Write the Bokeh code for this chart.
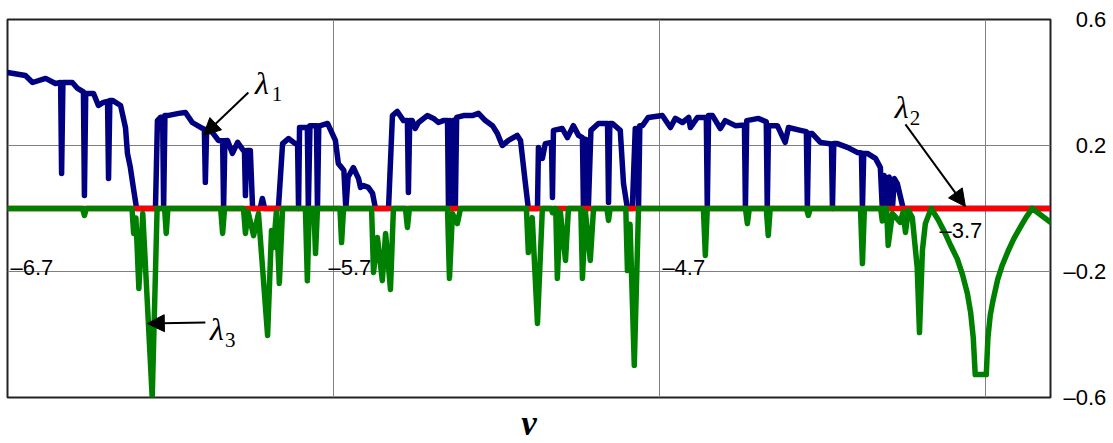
from bokeh.plotting import figure
from bokeh.models import Range1d, FixedTicker, Arrow, NormalHead, Label, ColumnDataSource
from bokeh.core.properties import value
from bokeh.embed import file_html
from bokeh.resources import INLINE

# ---------------- data ----------------
v_l1 = [-6.700, -6.645, -6.623, -6.583, -6.553, -6.537, -6.534, -6.530, -6.516, -6.501,
        -6.485, -6.467, -6.464, -6.460, -6.436, -6.421, -6.406, -6.393, -6.390, -6.386,
        -6.378, -6.353, -6.338, -6.332, -6.323, -6.314, -6.304, -6.246, -6.240, -6.230,
        -6.224, -6.221, -6.217, -6.209, -6.175, -6.154, -6.133, -6.102, -6.096, -6.093,
        -6.089, -6.071, -6.053, -6.040, -6.037, -6.033, -6.025, -6.010, -5.994, -5.976,
        -5.973, -5.970, -5.966, -5.955, -5.948, -5.925, -5.918, -5.911, -5.869, -5.856,
        -5.838, -5.817, -5.810, -5.807, -5.804, -5.780, -5.777, -5.772, -5.752, -5.749,
        -5.745, -5.740, -5.718, -5.694, -5.685, -5.675, -5.668, -5.662, -5.655, -5.639,
        -5.623, -5.617, -5.608, -5.593, -5.580, -5.571, -5.531, -5.519, -5.504, -5.485,
        -5.473, -5.470, -5.466, -5.458, -5.449, -5.439, -5.412, -5.393, -5.378, -5.363,
        -5.350, -5.347, -5.343, -5.338, -5.335, -5.331, -5.329, -5.326, -5.322, -5.301,
        -5.274, -5.255, -5.234, -5.212, -5.197, -5.182, -5.163, -5.136, -5.126, -5.111,
        -5.102, -5.074, -5.071, -5.059, -5.050, -5.031, -5.028, -5.025, -4.998, -4.982,
        -4.964, -4.948, -4.936, -4.933, -4.926, -4.918, -4.910, -4.887, -4.859, -4.856,
        -4.852, -4.844, -4.820, -4.810, -4.798, -4.783, -4.774, -4.767, -4.764, -4.760,
        -4.752, -4.734, -4.691, -4.666, -4.651, -4.629, -4.610, -4.605, -4.583, -4.556,
        -4.553, -4.549, -4.537, -4.513, -4.498, -4.467, -4.439, -4.436, -4.432, -4.396,
        -4.372, -4.369, -4.365, -4.338, -4.314, -4.304, -4.267, -4.249, -4.246, -4.242,
        -4.231, -4.206, -4.172, -4.169, -4.165, -4.154, -4.123, -4.093, -4.080, -4.077,
        -4.073, -4.062, -4.037, -4.022, -4.016, -4.010, -4.001, -3.995, -3.985, -3.979,
        -3.970, -3.952, -3.500]
lambda1 = [0.432, 0.422, 0.400, 0.413, 0.397, 0.400, 0.111, 0.400, 0.400, 0.400,
           0.381, 0.370, 0.041, 0.365, 0.365, 0.327, 0.337, 0.340, 0.095, 0.343,
           0.343, 0.327, 0.257, 0.175, 0.130, 0.067, 0.000, 0.000, 0.279, 0.290,
           0.290, 0.000, 0.295, 0.295, 0.302, 0.305, 0.273, 0.254, 0.252, 0.083,
           0.250, 0.241, 0.216, 0.215, 0.000, 0.215, 0.216, 0.175, 0.210, 0.184,
           0.184, 0.041, 0.184, 0.184, 0.000, 0.000, 0.032, 0.000, 0.000, 0.206,
           0.222, 0.206, 0.206, 0.000, 0.257, 0.257, 0.000, 0.263, 0.263, 0.000,
           0.263, 0.263, 0.270, 0.216, 0.143, 0.130, 0.121, 0.000, 0.100, 0.130,
           0.095, 0.067, 0.073, 0.067, 0.048, 0.000, 0.000, 0.295, 0.308, 0.279,
           0.279, 0.051, 0.279, 0.279, 0.254, 0.273, 0.295, 0.286, 0.273, 0.279,
           0.279, 0.000, 0.279, 0.270, 0.000, 0.280, 0.280, 0.000, 0.289, 0.295,
           0.295, 0.302, 0.279, 0.263, 0.238, 0.200, 0.216, 0.232, 0.216, 0.079,
           0.000, 0.000, 0.194, 0.159, 0.206, 0.210, 0.035, 0.248, 0.254, 0.225,
           0.263, 0.232, 0.225, 0.000, 0.220, 0.000, 0.248, 0.270, 0.270, 0.019,
           0.270, 0.270, 0.248, 0.079, 0.000, 0.000, 0.254, 0.254, 0.000, 0.263,
           0.263, 0.289, 0.295, 0.257, 0.286, 0.273, 0.289, 0.257, 0.289, 0.290,
           0.000, 0.295, 0.295, 0.254, 0.279, 0.263, 0.265, 0.000, 0.279, 0.286,
           0.275, 0.000, 0.263, 0.263, 0.210, 0.257, 0.248, 0.244, 0.000, 0.238,
           0.238, 0.210, 0.205, 0.000, 0.206, 0.206, 0.194, 0.178, 0.176, 0.000,
           0.175, 0.175, 0.159, 0.130, 0.000, 0.105, 0.000, 0.100, 0.000, 0.095,
           0.079, 0.000, 0.000]

v_l2 = [-6.7, -3.5]
lambda2 = [0.0, 0.0]

v_l3 = [-6.700, -6.470, -6.464, -6.458, -6.318, -6.313, -6.306, -6.297, -6.285, -6.256,
        -6.241, -6.218, -6.213, -6.208, -6.046, -6.040, -6.034, -5.976, -5.970, -5.962,
        -5.945, -5.930, -5.902, -5.890, -5.884, -5.875, -5.866, -5.856, -5.786, -5.780,
        -5.774, -5.760, -5.755, -5.749, -5.680, -5.675, -5.669, -5.583, -5.577, -5.565,
        -5.550, -5.540, -5.525, -5.516, -5.479, -5.473, -5.467, -5.350, -5.344, -5.335,
        -5.320, -5.310, -5.108, -5.102, -5.090, -5.074, -5.059, -5.032, -5.028, -5.022,
        -5.018, -5.013, -5.004, -4.988, -4.979, -4.941, -4.936, -4.927, -4.912, -4.902,
        -4.861, -4.856, -4.851, -4.803, -4.798, -4.790, -4.777, -4.764, -4.565, -4.559,
        -4.553, -4.436, -4.430, -4.424, -4.372, -4.366, -4.360, -4.249, -4.243, -4.237,
        -4.083, -4.077, -4.071, -4.021, -4.016, -4.010, -4.003, -3.998, -3.985, -3.961,
        -3.952, -3.945, -3.936, -3.924, -3.909, -3.902, -3.893, -3.884, -3.866, -3.845,
        -3.825, -3.805, -3.786, -3.770, -3.755, -3.745, -3.737, -3.731, -3.697, -3.692,
        -3.685, -3.676, -3.662, -3.648, -3.630, -3.612, -3.593, -3.575, -3.556, -3.500]
lambda3 = [0.000, 0.000, -0.022, 0.000, 0.000, -0.079, -0.030, -0.254, -0.016, -0.600,
           0.000, 0.000, -0.079, 0.000, 0.000, -0.079, 0.000, 0.000, -0.079, -0.010,
           -0.086, -0.016, -0.403, -0.070, -0.124, -0.010, -0.238, 0.000, 0.000, -0.229,
           0.000, 0.000, -0.143, 0.000, 0.000, -0.108, 0.000, 0.000, -0.203, -0.092,
           -0.229, -0.079, -0.257, 0.000, 0.000, -0.060, 0.000, 0.000, -0.222, -0.016,
           -0.048, 0.000, 0.000, -0.140, -0.029, -0.365, 0.000, 0.000, -0.013, 0.000,
           0.000, -0.222, -0.010, -0.165, 0.000, 0.000, -0.222, -0.010, -0.165, 0.000,
           0.000, -0.038, 0.000, 0.000, -0.197, -0.050, -0.498, 0.000, 0.000, -0.149,
           0.000, 0.000, -0.048, 0.000, 0.000, -0.086, 0.000, 0.000, -0.022, 0.000,
           0.000, -0.175, 0.000, 0.000, -0.040, 0.000, 0.000, -0.117, -0.016, -0.044,
           -0.010, -0.076, -0.006, -0.029, -0.187, -0.394, -0.133, -0.048, 0.000, -0.035,
           -0.075, -0.120, -0.160, -0.210, -0.270, -0.330, -0.410, -0.527, -0.527, -0.410,
           -0.340, -0.290, -0.225, -0.180, -0.135, -0.095, -0.060, -0.028, 0.000, -0.044]

x_ticks = [-6.7, -5.7, -4.7, -3.7]
x_tick_labels = ["\u20136.7", "\u20135.7", "\u20134.7", "\u20133.7"]
y_ticks = [-0.6, -0.2, 0.2, 0.6]
y_tick_labels = ["\u20130.6", "\u20130.2", "\u20070.2", "\u20070.6"]
x_title = "v"

# ---------------- figure ----------------
p = figure(frame_width=1043, frame_height=378,
           x_range=Range1d(-6.7, -3.5), y_range=Range1d(-0.6, 0.6),
           y_axis_location="right", x_axis_location="below",
           output_backend="svg", toolbar_location=None,
           min_border_left=7, min_border_top=19, min_border_right=0, min_border_bottom=0,
           background_fill_color="white", border_fill_color="white")

p.outline_line_color = "#222222"
p.outline_line_width = 2

# bottom axis: only carries the title; grid lines use their own ticker
xa = p.xaxis[0]
xa.ticker = FixedTicker(ticks=[])
xa.axis_line_color = None
xa.major_tick_line_color = None
xa.minor_tick_line_color = None
xa.major_tick_out = 0
xa.minor_tick_out = 0
xa.major_label_standoff = 0
xa.axis_label = x_title
xa.axis_label_text_font = "Liberation Serif"
xa.axis_label_text_font_style = "bold italic"
xa.axis_label_text_font_size = "35px"
xa.axis_label_standoff = 6
xa.axis_label_text_color = "black"

ya = p.yaxis[0]
ya.ticker = FixedTicker(ticks=y_ticks)
ya.axis_line_color = None
ya.major_tick_line_color = None
ya.minor_tick_line_color = None
ya.major_tick_out = 0
ya.minor_tick_out = 0
ya.major_label_overrides = {t: s for t, s in zip(y_ticks, y_tick_labels)}
ya.major_label_text_font = "Liberation Sans"
ya.major_label_text_font_size = "22px"
ya.major_label_text_color = "black"
ya.major_label_standoff = 13

p.xgrid.ticker = FixedTicker(ticks=x_ticks)
p.xgrid.grid_line_color = "#808080"
p.xgrid.grid_line_width = 1
p.ygrid.grid_line_color = "#808080"
p.ygrid.grid_line_width = 1

# curves: lambda1 (navy), lambda2 (red), lambda3 (green)
p.line(v_l1, lambda1, line_color="#000080", line_width=5.5, line_join="round", line_cap="round")
p.line(v_l2, lambda2, line_color="#FF0000", line_width=5.5)
p.line(v_l3, lambda3, line_color="#008000", line_width=5.5, line_join="round", line_cap="round")

# x tick labels drawn inside the plot
lab_y = [-0.2, -0.2, -0.2, 0.0]
lab_dx = [3, -5, 3, -3]
lab_dy = [-4, -4, -4, 22]
lab_align = ["left", "left", "left", "right"]
src = ColumnDataSource(dict(x=x_ticks, y=lab_y, t=x_tick_labels, dx=lab_dx, dy=lab_dy, al=lab_align))
p.text(x="x", y="y", text="t", x_offset="dx", y_offset="dy", text_align="al",
       text_baseline="alphabetic", text_font=value("Liberation Sans"),
       text_font_size="22px", text_color="black", source=src)

# lambda labels with arrows
def lam(xl, yl, sub, xs, ys):
    p.add_layout(Label(x=xl, y=yl, text="\u03bb", text_font="Liberation Serif",
                       text_font_style="italic", text_font_size="32px",
                       text_baseline="alphabetic", text_color="black"))
    p.add_layout(Label(x=xs, y=ys, text=sub, text_font="Liberation Serif",
                       text_font_size="21px", text_baseline="alphabetic", text_color="black"))

lam(-5.941, 0.400, "1", -5.889, 0.365)
lam(-3.978, 0.321, "2", -3.932, 0.286)
lam(-6.079, -0.381, "3", -6.033, -0.419)

def arrow(x0, y0, x1, y1):
    p.add_layout(Arrow(end=NormalHead(size=17, fill_color="black", line_color="black"),
                       x_start=x0, y_start=y0, x_end=x1, y_end=y1,
                       line_color="black", line_width=2))

arrow(-5.961, 0.368, -6.099, 0.232)
arrow(-3.945, 0.267, -3.761, 0.006)
arrow(-6.093, -0.362, -6.271, -0.365)

open("out.html", "w").write(file_html(p, INLINE))
